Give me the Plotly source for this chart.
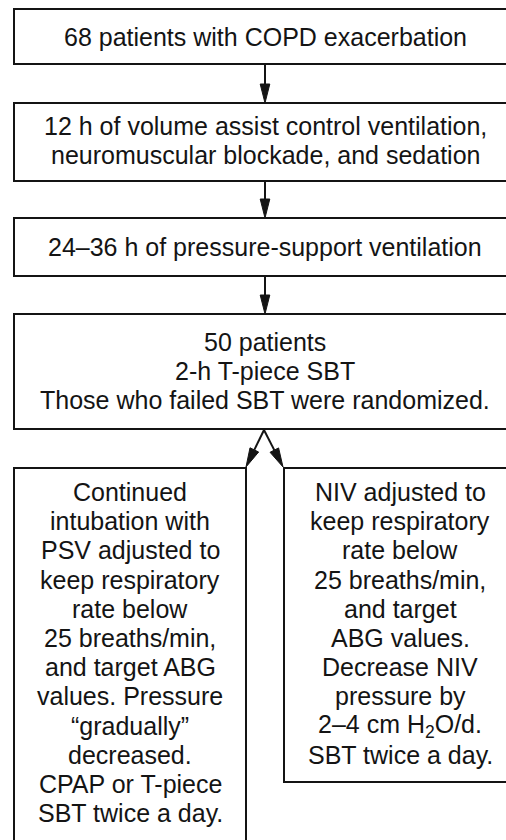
import math
import plotly.graph_objects as go

W, H = 506, 840

# Flowchart content
box_texts = [
    ["68 patients with COPD exacerbation"],
    ["12 h of volume assist control ventilation,", "neuromuscular blockade, and sedation"],
    ["24\u201336 h of pressure-support ventilation"],
    ["50 patients", "2-h T-piece SBT", "Those who failed SBT were randomized."],
    ["Continued", "intubation with", "PSV adjusted to", "keep respiratory", "rate below",
     "25 breaths/min,", "and target ABG", "values. Pressure", "\u201cgradually\u201d",
     "decreased.", "CPAP or T-piece", "SBT twice a day."],
    ["NIV adjusted to", "keep respiratory", "rate below", "25 breaths/min,", "and target",
     "ABG values.", "Decrease NIV", "pressure by", "2\u20134 cm H<sub>2</sub>O/d.",
     "SBT twice a day."],
]
# box geometry (x0, x1, y0, y1) in pixel units
box_x0 = [14, 14, 14, 14, 14, 284]
box_x1 = [516, 516, 516, 516, 246, 516]
box_y0 = [9, 103, 218, 314, 468, 468]
box_y1 = [64, 181, 276, 429, 860, 782]
# first text line centre and line spacing
line_y0 = [37, 126, 247, 342, 492, 492]
line_gap = [29, 28.5, 29, 29, 29.2, 29.2]

# arrows: (from_x, from_y, to_x, to_y)
arrows = [
    (265, 64, 265, 103),
    (265, 181, 265, 218),
    (265, 276, 265, 314),
    (264, 430, 246, 467),
    (264, 430, 283, 467),
]

INK = "#141414"
FONT = "Liberation Sans, Arial, Helvetica, sans-serif"

fig = go.Figure()
shapes = []
annotations = []

for i, lines in enumerate(box_texts):
    shapes.append(dict(type="rect", xref="x", yref="y",
                       x0=box_x0[i], x1=box_x1[i], y0=box_y0[i], y1=box_y1[i],
                       line=dict(color=INK, width=2), fillcolor="rgba(0,0,0,0)"))
    cx = (box_x0[i] + box_x1[i]) / 2
    for j, t in enumerate(lines):
        annotations.append(dict(x=cx, y=line_y0[i] + j * line_gap[i], xref="x", yref="y",
                                text=t, showarrow=False, xanchor="center", yanchor="middle",
                                font=dict(family=FONT, size=25, color=INK)))

HEAD_L, HEAD_W = 19, 4.8
for (fx, fy, tx, ty) in arrows:
    dx, dy = tx - fx, ty - fy
    L = math.hypot(dx, dy)
    ux, uy = dx / L, dy / L
    bx, by = tx - ux * HEAD_L, ty - uy * HEAD_L
    px, py = -uy, ux
    shapes.append(dict(type="line", xref="x", yref="y", x0=fx, y0=fy, x1=bx, y1=by,
                       line=dict(color=INK, width=2)))
    path = (f"M {tx} {ty} L {bx + px * HEAD_W} {by + py * HEAD_W} "
            f"L {bx - px * HEAD_W} {by - py * HEAD_W} Z")
    shapes.append(dict(type="path", xref="x", yref="y", path=path,
                       fillcolor=INK, line=dict(color=INK, width=1)))

fig.update_layout(
    width=W, height=H,
    margin=dict(l=0, r=0, t=0, b=0),
    paper_bgcolor="white", plot_bgcolor="white",
    xaxis=dict(range=[0, W], visible=False, fixedrange=True),
    yaxis=dict(range=[H, 0], visible=False, fixedrange=True),
    shapes=shapes, annotations=annotations, showlegend=False,
)

fig.write_html(
    "out.html",
    config={"displayModeBar": False},
    post_script="document.body.style.margin='0';document.body.style.overflow='hidden';",
)
